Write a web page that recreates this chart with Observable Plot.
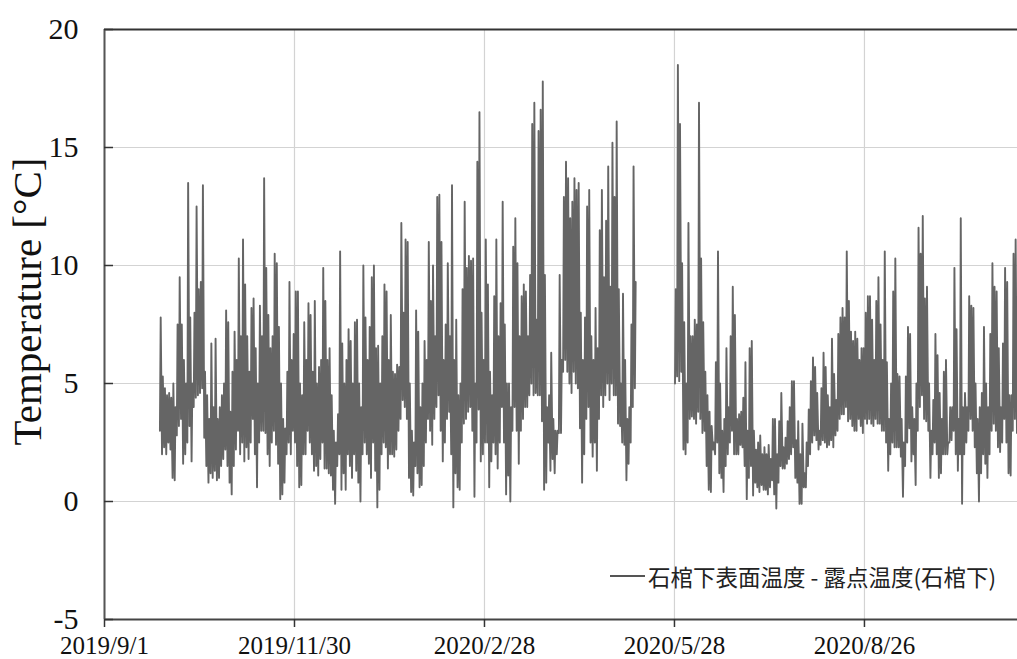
<!DOCTYPE html>
<html>
<head>
<meta charset="utf-8">
<script src="https://cdn.jsdelivr.net/npm/d3@7"></script>
<script src="https://cdn.jsdelivr.net/npm/@observablehq/plot@0.6"></script>
<style>
  html, body { margin: 0; padding: 0; background: #fff; }
  #wrap { position: relative; width: 1017px; height: 659px; overflow: hidden; }
  #wrap svg { display: block; }
  #legend { position: absolute; left: 610px; top: 560px; font-family: "Noto Sans CJK JP", "Noto Sans CJK SC", sans-serif; font-size: 22.5px; color: #222; display: flex; align-items: center; white-space: nowrap; }
  #legend .sw { display: inline-block; width: 35px; height: 0; border-top: 2px solid #555; margin-right: 3px; }
</style>
</head>
<body>
<div id="wrap"><div id="legend"><span class="sw"></span><span id="legtext"></span></div></div>
<script>
// ---- data (daily minimum / maximum) ----
const seg1Start = "2019-09-27";
const seg1Hi = [
  7.8,5.3,4.8,4.5,4.6,4.4,5.0,4.0,7.5,9.5,7.5,6.0,5.0,13.5,7.8,5.0,8.0,12.5,9.0,9.3,13.4,5.5,4.5,3.5,6.7,4.0,6.9,3.5,4.0,4.5,5.0,8.1,7.6,3.8,5.5,7.2,6.0,10.3,7.0,11.1,9.2,7.0,5.5,8.2,8.6,6.5,5.0,8.3,7.0,
  13.7,9.9,7.9,6.5,7.0,10.5,10.1,7.4,5.0,3.5,3.1,5.5,9.3,6.0,7.1,8.9,8.9,5.0,4.5,7.6,6.0,8.4,7.9,5.5,8.5,5.0,5.7,6.0,9.9,8.5,6.0,6.5,4.5,3.0,2.5,3.7,10.6,6.7,5.0,6.0,7.3,6.8,5.0,7.6,7.7,5.0,4.0,10.0,7.8,6.0,
  7.4,9.5,10.0,6.5,6.6,5.0,7.0,9.2,8.9,6.0,7.9,5.5,5.4,5.8,5.7,11.8,8.0,11.1,11.0,5.0,3.0,2.5,8.1,7.2,4.0,5.0,6.8,6.0,11.0,8.5,10.0,7.0,12.9,13.0,11.0,6.0,7.5,10.1,7.0,13.4,6.0,7.7,4.5,5.0,9.0,12.7,9.9,10.4,10.2,
  10.3,5.0,14.4,16.5,8.0,6.0,11.1,9.2,5.5,4.5,8.7,11.1,7.0,8.4,12.7,7.5,5.0,5.0,4.0,10.8,12.0,10.1,7.0,8.7,9.2,8.9,7.0,9.6,16.0,16.9,7.7,15.7,16.6,17.8,9.6,4.0,4.5,6.3,3.5,3.0,3.0,9.6,6.0,12.9,14.4,13.7,12.0,12.7,13.7,13.2,
  13.5,8.0,6.0,7.8,12.5,13.2,7.0,6.0,8.2,6.5,11.5,13.2,9.5,11.9,14.2,9.1,15.2,12.9,16.1,9.0,5.0,8.8,6.0,3.5,4.0,7.5,14.2,9.3
];
const seg1Lo = [
  3.0,2.0,2.3,2.0,2.5,2.2,1.0,0.9,2.8,3.2,3.5,1.6,2.0,2.5,3.2,1.7,4.0,4.4,4.5,4.6,4.8,2.7,1.5,0.8,1.2,1.0,1.3,0.9,1.0,1.5,1.8,2.2,1.5,0.8,0.3,1.5,2.2,3.0,2.0,2.5,1.7,2.3,1.8,2.5,3.5,2.0,0.6,2.5,3.0,
  3.0,2.9,2.0,1.5,2.5,3.0,2.4,1.6,0.1,0.3,0.8,2.0,2.5,2.0,3.0,2.5,1.5,0.6,0.7,2.0,2.0,3.0,2.5,2.0,1.3,1.5,1.1,1.8,2.5,1.4,1.4,1.2,1.1,0.5,-0.1,1.5,2.0,0.5,1.2,0.5,2.0,1.5,1.0,2.0,1.3,0.8,0.0,2.0,2.5,2.0,
  1.6,1.0,2.5,1.3,-0.25,0.5,2.0,2.5,2.3,1.4,2.0,2.0,1.9,2.2,3.0,3.5,4.3,4.0,3.5,1.0,0.4,0.25,1.5,1.2,0.6,0.7,1.5,2.5,3.5,3.0,2.4,3.5,4.0,4.5,3.0,1.7,2.5,3.5,3.8,2.0,-0.25,1.2,0.6,0.5,2.5,3.3,3.5,3.8,4.0,
  3.0,0.2,2.5,3.9,1.7,2.0,2.5,2.5,0.6,1.7,2.5,2.0,1.4,2.5,4.0,2.5,0.3,1.1,0.0,3.0,4.0,3.0,1.6,3.0,3.5,4.0,4.0,4.5,5.0,4.5,4.6,4.5,4.5,3.4,0.5,0.8,2.5,1.3,1.8,1.2,2.0,2.9,2.9,5.5,6.0,5.5,5.0,4.6,5.5,5.0,
  4.8,3.1,0.8,2.0,3.5,4.0,2.5,1.9,2.5,1.3,3.5,4.5,4.0,4.5,5.0,4.3,5.0,4.5,4.5,3.3,3.2,2.5,2.4,0.9,1.6,2.5,4.0,4.8
];
const seg2Start = "2020-05-28";
const seg2Hi = [
  9.0,18.5,16.0,10.1,7.6,5.0,11.8,7.0,7.0,7.7,7.5,16.9,10.3,7.6,5.5,4.5,3.8,3.2,2.5,5.9,10.6,5.0,3.0,3.5,6.5,4.0,7.0,9.1,7.9,3.5,3.7,3.8,4.4,5.9,3.0,6.5,6.8,3.0,2.2,2.5,2.8,2.0,2.3,2.0,2.4,1.8,3.5,
  3.5,2.0,3.4,4.6,2.3,2.7,3.4,4.0,5.1,5.1,2.6,3.4,2.0,3.3,1.2,2.5,3.9,5.1,6.1,5.7,4.6,3.0,4.8,6.3,5.7,4.5,4.0,6.9,5.4,4.3,7.1,7.8,8.2,7.8,10.6,8.5,7.2,6.8,7.2,6.9,6.0,6.5,6.5,8.0,8.7,8.7,7.7,6.0,8.5,9.5,7.5,6.0,10.6,5.9,3.5,5.0,8.9,10.3,
  5.4,5.3,3.5,2.5,5.3,7.4,7.1,4.0,3.5,5.0,11.6,10.5,12.1,8.6,9.1,5.0,3.0,4.3,7.1,6.2,4.6,3.5,5.5,6.0,2.5,4.0,4.0,9.9,7.3,3.5,12.0,4.0,4.6,4.0,8.7,8.3,8.2,5.0,3.5,4.0,4.6,7.4,5.0,4.0,7.1,10.1,9.1,8.9,6.5,4.0,6.7,9.9,9.3,4.5,4.5,10.5,11.1,8.1,6.0
];
const seg2Lo = [
  5.0,5.3,5.1,5.5,2.2,2.0,2.5,3.5,3.6,3.5,3.3,3.8,3.5,2.9,3.0,1.5,0.5,0.4,2.2,2.0,2.5,1.2,1.0,0.4,1.5,2.0,2.5,3.0,2.0,2.0,2.0,2.4,2.3,1.5,0.1,1.0,1.5,0.25,0.8,0.6,0.4,0.7,0.5,0.5,0.3,0.6,0.9,
  0.3,-0.3,0.8,1.5,1.4,1.4,1.6,1.8,2.0,2.3,1.0,0.8,-0.1,-0.1,0.6,0.6,1.5,2.0,2.5,2.8,2.6,2.2,2.4,2.6,2.5,2.3,2.4,2.6,2.3,2.8,3.0,3.5,3.7,3.7,4.0,3.4,3.5,3.2,3.0,3.0,3.5,3.2,2.9,3.5,3.3,3.5,3.3,3.2,3.5,3.3,3.3,3.0,3.0,2.5,1.3,2.0,2.5,2.3,
  2.3,2.3,1.9,0.2,1.5,2.5,3.1,1.7,2.0,0.7,3.0,4.0,4.5,3.5,3.4,3.0,1.0,2.0,2.5,2.0,1.0,1.2,2.0,2.0,2.0,2.5,2.6,3.0,2.0,1.3,2.0,-0.1,2.0,2.5,3.0,3.5,3.0,2.3,1.2,0.0,1.2,2.0,1.6,1.0,2.0,3.0,3.3,3.0,2.3,2.1,2.5,3.5,2.5,1.2,1.1,3.0,3.5,2.9,3.0
];
const xTickDates = ["2019-09-01","2019-11-30","2020-02-28","2020-05-28","2020-08-26"];
const xTickLabels = ["2019/9/1","2019/11/30","2020/2/28","2020/5/28","2020/8/26"];
const yTicks = [-5, 0, 5, 10, 15, 20];
const xStart = "2019-09-01T00:00:00Z";
const xEnd = "2020-11-06T12:00:00Z";
const yLabel = "Temperature [°C]";
const legendLabel = "石棺下表面温度 - 露点温度(石棺下)";

// ---- build tables ----
const DAY = 864e5;
function build(start, hi, lo) {
  const t0 = new Date(start + "T00:00:00Z").getTime();
  const rows = [];
  for (let i = 0; i < hi.length; i++) {
    rows.push({date: new Date(t0 + (i + 0.25) * DAY), value: lo[i]});
    rows.push({date: new Date(t0 + (i + 0.62) * DAY), value: hi[i]});
  }
  return rows;
}
const seg1 = build(seg1Start, seg1Hi, seg1Lo);
const seg2 = build(seg2Start, seg2Hi, seg2Lo);
const tickDates = xTickDates.map(d => new Date(d + "T00:00:00Z"));
const labelMap = new Map(tickDates.map((d, i) => [+d, xTickLabels[i]]));
const x0 = new Date(xStart), x1 = new Date(xEnd);

const serif = "'Liberation Serif', 'Times New Roman', 'DejaVu Serif', serif";
const chart = Plot.plot({
  width: 1017,
  height: 659,
  marginLeft: 104,
  marginRight: 0,
  marginTop: 29,
  marginBottom: 40,
  style: {fontFamily: serif, background: "#fff", color: "#111", overflow: "visible"},
  x: {type: "utc", domain: [x0, x1]},
  y: {domain: [-5, 20]},
  marks: [
    Plot.gridX(tickDates, {stroke: "#d3d3d3", strokeOpacity: 1, strokeWidth: 1.2}),
    Plot.gridY([0, 5, 10, 15], {stroke: "#d3d3d3", strokeOpacity: 1, strokeWidth: 1.2}),
    Plot.line(seg1, {x: "date", y: "value", stroke: "#656565", strokeWidth: 1.9, clip: true}),
    Plot.line(seg2, {x: "date", y: "value", stroke: "#656565", strokeWidth: 1.9, clip: true}),
    Plot.ruleY([20], {stroke: "#333", strokeWidth: 2}),
    Plot.ruleY([-5], {stroke: "#444", strokeWidth: 2}),
    Plot.ruleX([x0], {stroke: "#555", strokeWidth: 2}),
    Plot.axisX(tickDates, {tickFormat: d => labelMap.get(+d), tickSize: 8, tickPadding: 9, fontSize: 25, stroke: "#333", strokeWidth: 1.5, label: null}),
    Plot.axisY(yTicks, {tickFormat: d => String(d), tickSize: -9, tickPadding: 35, fontSize: 30, stroke: "#333", strokeWidth: 1.5, label: null}),
    Plot.text([yLabel], {text: d => d, frameAnchor: "left", textAnchor: "middle", lineAnchor: "middle", rotate: -90, dx: -77, dy: -23, fontSize: 41, fill: "#111"})
  ]
});
const wrap = document.getElementById("wrap");
wrap.insertBefore(chart, wrap.firstChild);
document.getElementById("legtext").textContent = legendLabel;
</script>
</body>
</html>
